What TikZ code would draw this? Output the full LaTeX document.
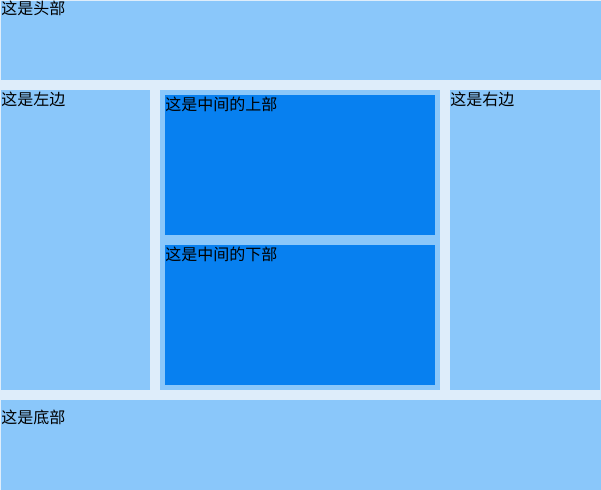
\documentclass[tikz,border=0pt]{standalone}
\usepackage{fontspec}
\newfontfamily\cjk{Noto Sans CJK SC}
\usetikzlibrary{positioning}
\definecolor{pagebg}{RGB}{222,237,250}
\definecolor{paneblue}{RGB}{138,199,250}
\definecolor{deepblue}{RGB}{7,128,240}
\begin{document}
\begin{tikzpicture}[
      x=0.75pt, y=-0.75pt,
      pane/.style={rectangle, fill=paneblue, draw=none, inner sep=0pt,
                   anchor=north west},
      inner/.style={pane, fill=deepblue},
      txt/.style={anchor=north west, inner sep=0pt, font=\cjk\fontsize{12pt}{14pt}\selectfont,
                  text=black}
    ]
      \fill[pagebg] (0,0) rectangle (601,490);
      \useasboundingbox (0,0) rectangle (601,490);
      %% header, columns, footer
      \node[pane, minimum width=450pt, minimum height=59.25pt] (head) at (1,1) {};
      \node[pane, minimum width=111.75pt, minimum height=225pt] (left) at (1,90) {};
      \node[pane, minimum width=210pt, minimum height=225pt] (mid) at (160,90) {};
      \node[pane, minimum width=112.5pt, minimum height=225pt] (right) at (450,90) {};
      \node[pane, minimum width=450pt, minimum height=67.5pt] (foot) at (1,400) {};
      %% middle blocks
      \node[inner, minimum width=202.5pt, minimum height=105pt] (midtop) at (165,95) {};
      \node[inner, minimum width=202.5pt, minimum height=105pt] (midbot) at (165,245) {};
      %% texts
      \node[txt] (headtext) at ([yshift=0.2pt]head.north west) {这是头部};
      \node[txt] (lefttext) at ([yshift=-1pt]left.north west) {这是左边};
      \node[txt] (righttext) at ([yshift=-1pt]right.north west) {这是右边};
      \node[txt] (toptext) at ([yshift=-1pt]midtop.north west) {这是中间的上部};
      \node[txt] (bottext) at ([yshift=-1pt]midbot.north west) {这是中间的下部};
      \node[txt] (foottext) at ([yshift=-7pt]foot.north west) {这是底部};
    \end{tikzpicture}
\end{document}
